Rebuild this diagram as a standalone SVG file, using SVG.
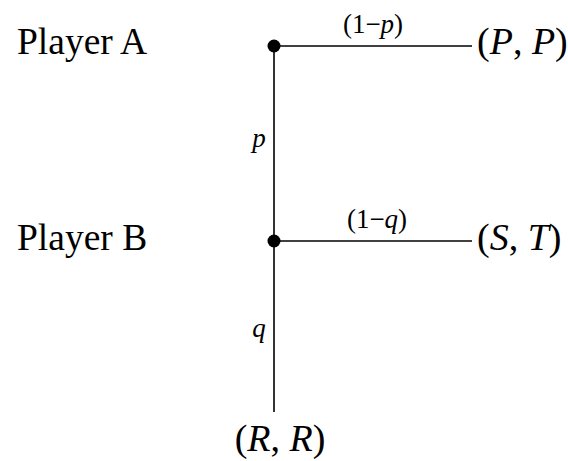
<svg xmlns="http://www.w3.org/2000/svg" width="568" height="461" viewBox="0 0 568 461">
<style>
.lbl{font-family:"Liberation Serif","Times New Roman",serif;fill:#000}
.big{font-size:37.5px}
.out{font-size:38px}
.sm{font-size:27px}
.it{font-style:italic}
.edge{stroke:#000;stroke-width:1.6;fill:none}
</style>
<rect width="568" height="461" fill="#fff"/>
<g id="connectors">
<line class="edge" x1="274" y1="46" x2="472" y2="46"/>
<line class="edge" x1="274" y1="46" x2="274" y2="412"/>
<line class="edge" x1="274" y1="241" x2="472" y2="241"/>
</g>
<g id="playerA">
<text class="lbl big" x="17" y="54">Player A</text>
<circle cx="274" cy="46" r="6.5" fill="#000"/>
</g>
<g id="playerB">
<text class="lbl big" x="17" y="250">Player B</text>
<circle cx="274" cy="241" r="6.5" fill="#000"/>
</g>
<g id="outPP">
<text class="lbl out" x="477" y="54">(<tspan class="it">P</tspan>, <tspan class="it">P</tspan>)</text>
</g>
<g id="outST">
<text class="lbl out" x="477" y="250">(<tspan class="it">S</tspan>, <tspan class="it">T</tspan>)</text>
</g>
<g id="outRR">
<text class="lbl out" x="280" y="451" text-anchor="middle">(<tspan class="it">R</tspan>, <tspan class="it">R</tspan>)</text>
</g>
<g id="edgeLabels">
<text class="lbl sm" x="373" y="33" text-anchor="middle">(1−<tspan class="it">p</tspan>)</text>
<text class="lbl sm it" x="259" y="147" text-anchor="middle">p</text>
<text class="lbl sm" x="377" y="228" text-anchor="middle">(1−<tspan class="it">q</tspan>)</text>
<text class="lbl sm it" x="259" y="337" text-anchor="middle">q</text>
</g>
</svg>
